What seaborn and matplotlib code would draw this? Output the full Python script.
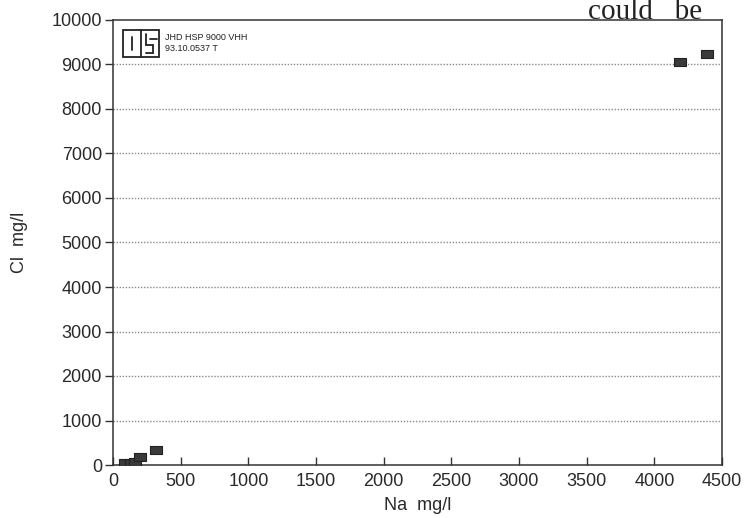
import matplotlib
matplotlib.use("Agg")
import matplotlib.pyplot as plt
from matplotlib.lines import Line2D
from matplotlib.patches import Rectangle
import seaborn as sns
import pandas as pd

# Sodium vs chloride concentrations of the water samples
na_mg_l = [90, 130, 165, 200, 320, 4190, 4390]
cl_mg_l = [40, 55, 75, 170, 340, 9060, 9240]

x_ticks = [0, 500, 1000, 1500, 2000, 2500, 3000, 3500, 4000, 4500]
y_ticks = [0, 1000, 2000, 3000, 4000, 5000, 6000, 7000, 8000, 9000, 10000]

df = pd.DataFrame({"Na": na_mg_l, "Cl": cl_mg_l})

sns.set_theme(style="white")
plt.rcParams["font.family"] = ["Liberation Sans", "DejaVu Sans"]

W, H = 746, 518
fig = plt.figure(figsize=(W / 100, H / 100), dpi=100)
ax = fig.add_axes([113 / W, 1 - 465 / H, (722 - 113) / W, (465 - 20) / H])

# wide flat rectangle marker
rect_marker = [(-1.5, -1.0), (1.5, -1.0), (1.5, 1.0), (-1.5, 1.0), (-1.5, -1.0)]
sns.scatterplot(data=df, x="Na", y="Cl", ax=ax, marker=rect_marker, s=85,
                color="#3a3a3a", edgecolor="#222222", linewidth=0.8, zorder=3)

ax.set_xlim(0, 4500)
ax.set_ylim(0, 10000)
ax.set_xticks(x_ticks)
ax.set_yticks(y_ticks)
ax.set_xticklabels([str(v) for v in x_ticks])
ax.set_yticklabels([str(v) for v in y_ticks])

for yv in y_ticks[1:-1]:
    ax.axhline(yv, color="#8a8a8a", linestyle=(0, (1, 1.2)), linewidth=1.0, zorder=1)

for side in ax.spines.values():
    side.set_color("#333333")
    side.set_linewidth(1.1)

ax.tick_params(axis="y", direction="out", length=6, width=1, color="#333333",
               labelsize=13, labelcolor="#2a2a2a", pad=2, left=True)
ax.tick_params(axis="x", direction="in", length=6, width=1, color="#333333",
               labelsize=13, labelcolor="#2a2a2a", pad=6, bottom=True)

ax.set_xlabel("Na  mg/l", fontsize=13, color="#2a2a2a", labelpad=5)
ax.set_ylabel("Cl  mg/l", fontsize=13, color="#2a2a2a", labelpad=17)

# laboratory stamp in the upper left corner (figure pixel coordinates)
def px(x, y):
    return x / W, 1 - y / H

stamp_kw = dict(transform=fig.transFigure, color="#222222", linewidth=1.3)
x0, y0 = px(123, 57)
x1, y1 = px(159, 30)
fig.add_artist(Rectangle((x0, y0), x1 - x0, y1 - y0, fill=False,
                         transform=fig.transFigure, edgecolor="#222222", linewidth=1.3))
for (xa, ya), (xb, yb) in [
    ((141, 30), (141, 57)),
    ((132, 37), (132, 50)),
    ((146, 34), (146, 45)),
    ((146, 45), (153, 45)),
    ((153, 45), (153, 53)),
    ((146, 53), (153, 53)),
    ((150, 39), (157, 39)),
]:
    pa, pb = px(xa, ya), px(xb, yb)
    fig.add_artist(Line2D([pa[0], pb[0]], [pa[1], pb[1]], **stamp_kw))

fig.text(165 / W, 1 - 40 / H, "JHD HSP 9000 VHH", fontsize=6.5, color="#222222")
fig.text(165 / W, 1 - 51 / H, "93.10.0537 T", fontsize=6.5, color="#222222")

# running text of the surrounding page, along the top edge
fig.text(588 / W, 1 - 19 / H, "could   be", fontsize=21, color="#222222",
         family=["Liberation Serif", "DejaVu Serif"], va="baseline")

fig.savefig("out.png", dpi=100, facecolor="white")
